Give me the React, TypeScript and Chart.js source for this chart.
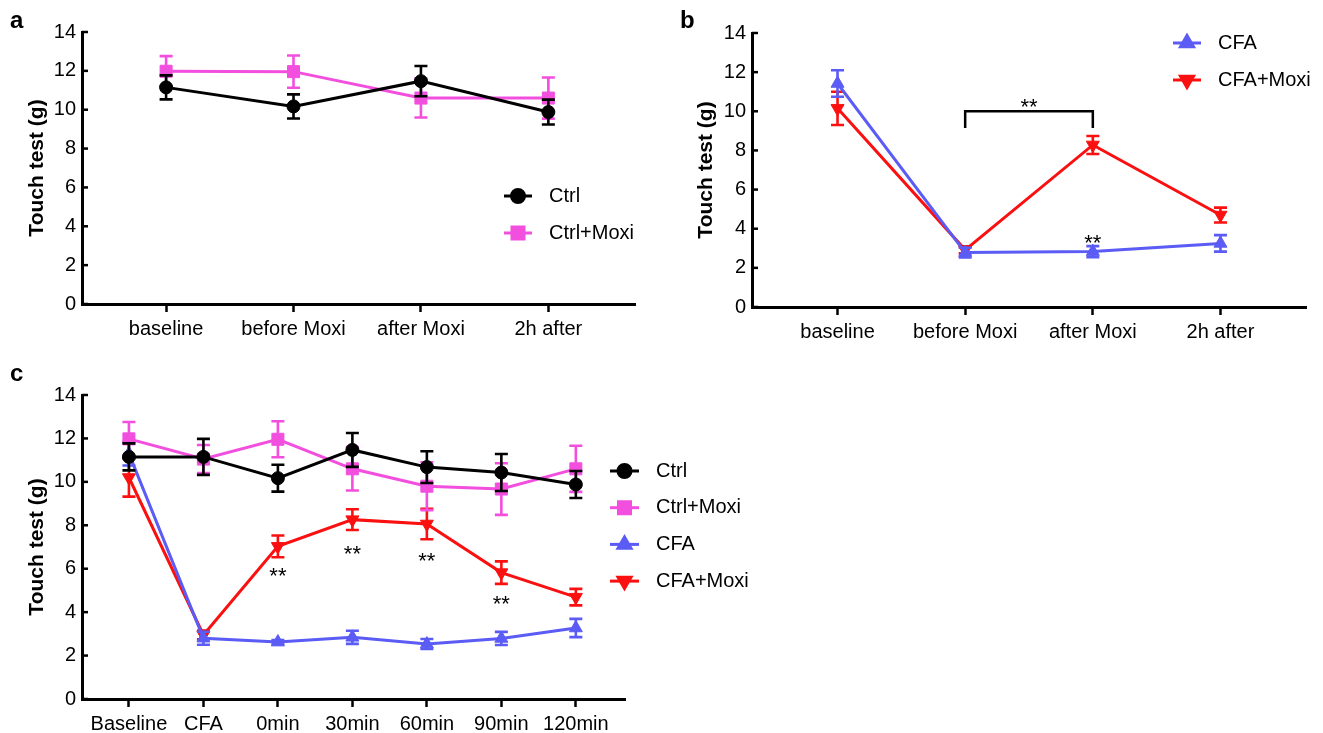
import React, { useEffect, useRef } from "react";
import { Chart, registerables } from "chart.js";
import { drawPoint } from "chart.js/helpers";

Chart.register(...registerables);

const FONT = "'Liberation Sans', Arial, sans-serif";

// ---------- Panel a ----------
const catsA = ["baseline", "before Moxi", "after Moxi", "2h after"];
const ctrlA = [11.15, 10.17, 11.47, 9.88];
const ctrlAErr = [0.62, 0.62, 0.78, 0.64];
const ctrlMoxiA = [11.98, 11.96, 10.6, 10.6];
const ctrlMoxiAErr = [0.78, 0.83, 1.0, 1.06];

// ---------- Panel b ----------
const catsB = ["baseline", "before Moxi", "after Moxi", "2h after"];
const cfaB = [11.42, 2.78, 2.83, 3.25];
const cfaBErr = [0.68, 0.25, 0.28, 0.42];
const cfaMoxiB = [10.15, 2.92, 8.28, 4.7];
const cfaMoxiBErr = [0.85, 0.18, 0.46, 0.38];
const starsB = [
  { x: 2, y: 3.58 },
  { x: 1.5, y: 10.55 },
];
const bracketB = { from: 1, to: 2, level: 10.0, leg: 9.15 };

// ---------- Panel c ----------
const catsC = ["Baseline", "CFA", "0min", "30min", "60min", "90min", "120min"];
const ctrlC = [11.15, 11.15, 10.17, 11.47, 10.68, 10.43, 9.88];
const ctrlCErr = [0.62, 0.83, 0.62, 0.78, 0.73, 0.85, 0.62];
const ctrlMoxiC = [11.98, 11.05, 11.96, 10.6, 9.8, 9.67, 10.6];
const ctrlMoxiCErr = [0.78, 0.65, 0.83, 1.0, 1.1, 1.19, 1.06];
const cfaC = [11.3, 2.8, 2.62, 2.84, 2.53, 2.79, 3.27];
const cfaCErr = [0.55, 0.3, 0.1, 0.3, 0.23, 0.3, 0.42];
const cfaMoxiC = [10.2, 2.95, 7.03, 8.26, 8.06, 5.82, 4.69];
const cfaMoxiCErr = [0.88, 0.2, 0.5, 0.48, 0.7, 0.52, 0.38];
const starsC = [
  { x: 2, y: 5.94 },
  { x: 3, y: 6.95 },
  { x: 4, y: 6.63 },
  { x: 5, y: 4.65 },
];

const yTicks = [0, 2, 4, 6, 8, 10, 12, 14];

const BLACK = "#000000";
const PINK = "#F24FDF";
const BLUE = "#5B5BF5";
const RED = "#FA1010";

const STYLE = {
  ctrl: { color: BLACK, style: "circle", rot: 0, r: 6.5 },
  ctrlMoxi: { color: PINK, style: "rect", rot: 0, r: 8.5 },
  cfa: { color: BLUE, style: "triangle", rot: 0, r: 7.5 },
  cfaMoxi: { color: RED, style: "triangle", rot: 180, r: 7.5 },
};

type Series = { label: string; values: number[]; err: number[]; key: keyof typeof STYLE };

type PanelOpts = {
  cats: string[];
  series: Series[];
  xMin: number;
  xMax: number;
  padTop: number;
  padRight: number;
  yWidth: number;
  xHeight: number;
  titlePad: number;
  letter: string;
  letterX: number;
  letterY: number;
  legend: { x0: number; x1: number; tx: number; y0: number; dy: number };
  stars: { x: number; y: number }[];
  bracket?: { from: number; to: number; level: number; leg: number };
};

function makeChart(canvas: HTMLCanvasElement, o: PanelOpts) {
  const overlay = {
    id: "overlay",
    beforeDatasetDraw(chart: any, args: any) {
      const idx = args.index;
      const s = o.series[idx];
      const st = STYLE[s.key];
      const meta = chart.getDatasetMeta(idx);
      const ys = chart.scales.y;
      const ctx = chart.ctx;
      ctx.save();
      ctx.strokeStyle = st.color;
      ctx.lineWidth = 2.6;
      meta.data.forEach((pt: any, i: number) => {
        const v = s.values[i];
        const yt = ys.getPixelForValue(v + s.err[i]);
        const yb = ys.getPixelForValue(v - s.err[i]);
        ctx.beginPath();
        ctx.moveTo(pt.x, yt);
        ctx.lineTo(pt.x, yb);
        ctx.moveTo(pt.x - 6.5, yt);
        ctx.lineTo(pt.x + 6.5, yt);
        ctx.moveTo(pt.x - 6.5, yb);
        ctx.lineTo(pt.x + 6.5, yb);
        ctx.stroke();
      });
      ctx.restore();
    },
    afterDraw(chart: any) {
      const ctx = chart.ctx;
      const xs = chart.scales.x;
      const ys = chart.scales.y;
      const area = chart.chartArea;
      ctx.save();
      // inward y ticks
      ctx.strokeStyle = "#000";
      ctx.lineWidth = 2.5;
      yTicks.forEach((t) => {
        const y = ys.getPixelForValue(t);
        ctx.beginPath();
        ctx.moveTo(area.left, y);
        ctx.lineTo(area.left + 6, y);
        ctx.stroke();
      });
      // legend
      o.series.forEach((s, i) => {
        const st = STYLE[s.key];
        const y = o.legend.y0 + i * o.legend.dy;
        ctx.strokeStyle = st.color;
        ctx.fillStyle = st.color;
        ctx.lineWidth = 3;
        ctx.beginPath();
        ctx.moveTo(o.legend.x0, y);
        ctx.lineTo(o.legend.x1, y);
        ctx.stroke();
        drawPoint(
          ctx,
          { pointStyle: st.style, rotation: st.rot, radius: st.r, borderWidth: 1 } as any,
          (o.legend.x0 + o.legend.x1) / 2,
          y
        );
        ctx.fillStyle = "#000";
        ctx.font = `20px ${FONT}`;
        ctx.textBaseline = "middle";
        ctx.textAlign = "left";
        ctx.fillText(s.label, o.legend.tx, y);
      });
      // bracket
      if (o.bracket) {
        const b = o.bracket;
        const x1 = xs.getPixelForValue(b.from);
        const x2 = xs.getPixelForValue(b.to);
        const yl = ys.getPixelForValue(b.level);
        const yg = ys.getPixelForValue(b.leg);
        ctx.strokeStyle = "#000";
        ctx.lineWidth = 2.5;
        ctx.beginPath();
        ctx.moveTo(x1, yg);
        ctx.lineTo(x1, yl);
        ctx.lineTo(x2, yl);
        ctx.lineTo(x2, yg);
        ctx.stroke();
      }
      // stars
      ctx.fillStyle = "#000";
      ctx.font = `22px ${FONT}`;
      ctx.textAlign = "center";
      ctx.textBaseline = "alphabetic";
      o.stars.forEach((s) => {
        ctx.fillText("**", xs.getPixelForValue(s.x), ys.getPixelForValue(s.y) + 13);
      });
      // panel letter
      ctx.font = `bold 24px ${FONT}`;
      ctx.textAlign = "left";
      ctx.fillText(o.letter, o.letterX, o.letterY);
      ctx.restore();
    },
  };

  return new Chart(canvas, {
    type: "line",
    data: {
      datasets: o.series.map((s) => {
        const st = STYLE[s.key];
        return {
          label: s.label,
          data: s.values.map((v, i) => ({ x: i, y: v })),
          borderColor: st.color,
          backgroundColor: st.color,
          borderWidth: 3,
          pointStyle: st.style as any,
          pointRotation: st.rot,
          pointRadius: st.r,
          pointHoverRadius: st.r,
          pointBorderWidth: 1,
          pointBorderColor: st.color,
          pointBackgroundColor: st.color,
          tension: 0,
          clip: false as any,
        };
      }),
    },
    options: {
      animation: false,
      responsive: false,
      maintainAspectRatio: false,
      events: [],
      layout: {
        padding: { left: 0, top: o.padTop, right: o.padRight, bottom: 0 },
        autoPadding: false,
      } as any,
      plugins: {
        legend: { display: false },
        tooltip: { enabled: false },
      },
      scales: {
        x: {
          type: "linear",
          min: o.xMin,
          max: o.xMax,
          afterBuildTicks: (axis: any) => {
            axis.ticks = o.cats.map((_, i) => ({ value: i }));
          },
          afterFit: (axis: any) => {
            axis.height = o.xHeight;
          },
          ticks: {
            autoSkip: false,
            maxRotation: 0,
            minRotation: 0,
            padding: 5,
            color: "#000",
            font: { family: FONT, size: 20 },
            callback: (v: any) => o.cats[v as number] ?? "",
          },
          grid: {
            display: true,
            drawOnChartArea: false,
            drawTicks: true,
            tickLength: 8,
            tickWidth: 2.5,
            tickColor: "#000",
          },
          border: { display: true, color: "#000", width: 3 },
        },
        y: {
          type: "linear",
          min: 0,
          max: 14,
          afterBuildTicks: (axis: any) => {
            axis.ticks = yTicks.map((v) => ({ value: v }));
          },
          afterFit: (axis: any) => {
            axis.width = o.yWidth;
          },
          ticks: {
            padding: 6,
            color: "#000",
            font: { family: FONT, size: 20 },
          },
          grid: { display: true, drawOnChartArea: false, drawTicks: false },
          border: { display: true, color: "#000", width: 3 },
          title: {
            display: true,
            text: "Touch test (g)",
            color: "#000",
            font: { family: FONT, size: 21, weight: "bold" },
            padding: { top: o.titlePad, bottom: 0 },
          },
        },
      },
    },
    plugins: [overlay],
  });
}

export default function App() {
  const refA = useRef<HTMLCanvasElement>(null);
  const refB = useRef<HTMLCanvasElement>(null);
  const refC = useRef<HTMLCanvasElement>(null);

  useEffect(() => {
    const charts: Chart[] = [];
    if (refA.current) {
      charts.push(
        makeChart(refA.current, {
          cats: catsA,
          series: [
            { label: "Ctrl", values: ctrlA, err: ctrlAErr, key: "ctrl" },
            { label: "Ctrl+Moxi", values: ctrlMoxiA, err: ctrlMoxiAErr, key: "ctrlMoxi" },
          ],
          xMin: -0.66,
          xMax: 3.68,
          padTop: 32,
          padRight: 25,
          yWidth: 82,
          xHeight: 41,
          titlePad: 24.4,
          letter: "a",
          letterX: 10,
          letterY: 28,
          legend: { x0: 504, x1: 532, tx: 549, y0: 196, dy: 37 },
          stars: [],
        })
      );
    }
    if (refB.current) {
      charts.push(
        makeChart(refB.current, {
          cats: catsB,
          series: [
            { label: "CFA", values: cfaB, err: cfaBErr, key: "cfa" },
            { label: "CFA+Moxi", values: cfaMoxiB, err: cfaMoxiBErr, key: "cfaMoxi" },
          ],
          xMin: -0.67,
          xMax: 3.67,
          padTop: 33,
          padRight: 17,
          yWidth: 92,
          xHeight: 38,
          titlePad: 33.4,
          letter: "b",
          letterX: 20,
          letterY: 28,
          legend: { x0: 513, x1: 541, tx: 558, y0: 43, dy: 37 },
          stars: starsB,
          bracket: bracketB,
        })
      );
    }
    if (refC.current) {
      charts.push(
        makeChart(refC.current, {
          cats: catsC,
          series: [
            { label: "Ctrl", values: ctrlC, err: ctrlCErr, key: "ctrl" },
            { label: "Ctrl+Moxi", values: ctrlMoxiC, err: ctrlMoxiCErr, key: "ctrlMoxi" },
            { label: "CFA", values: cfaC, err: cfaCErr, key: "cfa" },
            { label: "CFA+Moxi", values: cfaMoxiC, err: cfaMoxiCErr, key: "cfaMoxi" },
          ],
          xMin: -0.63,
          xMax: 6.66,
          padTop: 35,
          padRight: 155,
          yWidth: 82,
          xHeight: 34,
          titlePad: 24.4,
          letter: "c",
          letterX: 10,
          letterY: 21,
          legend: { x0: 610, x1: 639, tx: 656, y0: 111, dy: 36.7 },
          stars: starsC,
        })
      );
    }
    return () => charts.forEach((c) => c.destroy());
  }, []);

  const cv = (left: number, top: number, w: number, h: number) => ({
    position: "absolute" as const,
    left,
    top,
    width: w,
    height: h,
  });

  return (
    <div style={{ position: "absolute", left: 0, top: 0, width: 1323, height: 733, background: "#fff" }}>
      <canvas ref={refA} width={660} height={345} style={cv(0, 0, 660, 345)} />
      <canvas ref={refB} width={663} height={345} style={cv(660, 0, 663, 345)} />
      <canvas ref={refC} width={780} height={373} style={cv(0, 360, 780, 373)} />
    </div>
  );
}
